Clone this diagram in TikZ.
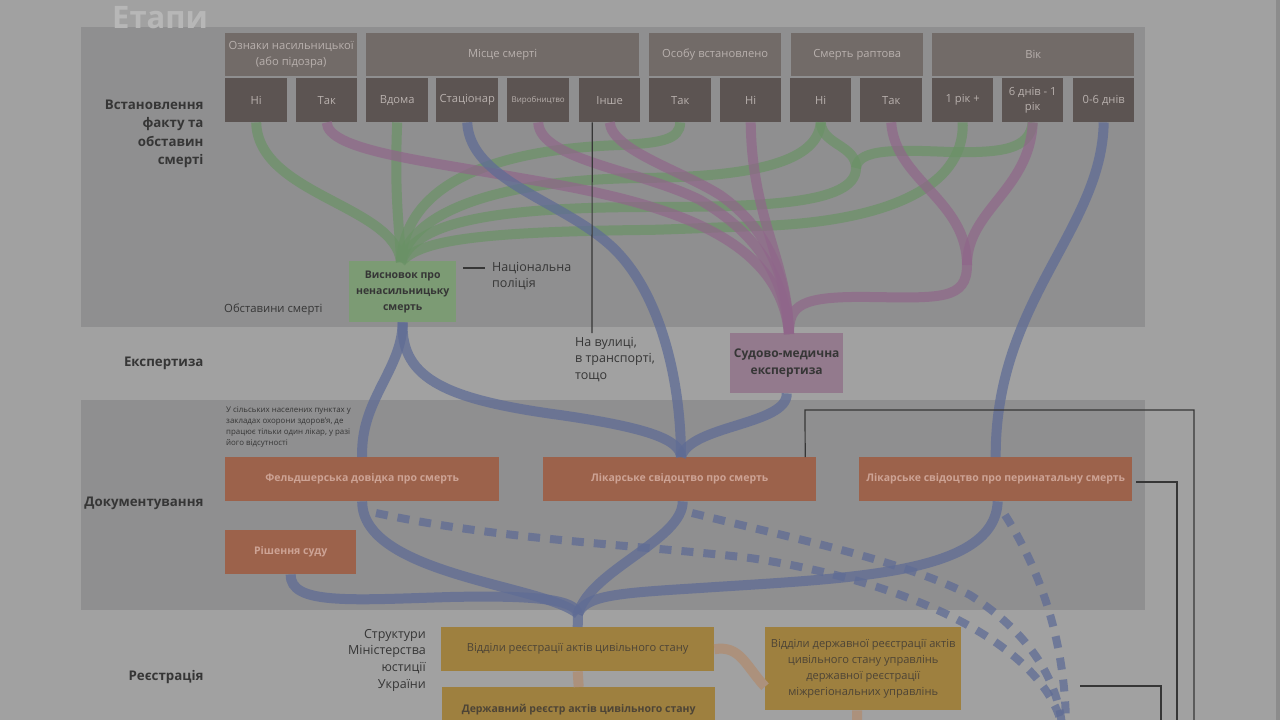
\documentclass[tikz,border=0pt]{standalone}
\usepackage{fontspec}
\setmainfont{Open Sans}
\definecolor{bg}{HTML}{A1A1A1}
\definecolor{band}{HTML}{8F8F90}
\definecolor{hdrc}{HTML}{726B68}
\definecolor{subc}{HTML}{5C5452}
\definecolor{hdrtxt}{HTML}{B8B0AD}
\definecolor{lbl}{HTML}{363636}
\definecolor{gline}{HTML}{6A9266}
\definecolor{pline}{HTML}{90668A}
\definecolor{bline}{HTML}{5F6C95}
\definecolor{gbox}{HTML}{7C9B74}
\definecolor{pbox}{HTML}{937A8D}
\definecolor{obox}{HTML}{9C624B}
\definecolor{otxt}{HTML}{CDA395}
\definecolor{ybox}{HTML}{9E803F}
\definecolor{ytxt}{HTML}{4D4436}
\definecolor{tanc}{HTML}{AC917C}
\definecolor{etapy}{HTML}{B7B7B7}
\tikzset{
  bx/.style={inner sep=0pt, anchor=north west, align=center},
  hdr/.style={bx, fill=hdrc, text=hdrtxt, font=\fontsize{11.2}{15.5}\selectfont},
  sub/.style={bx, fill=subc, text=hdrtxt, minimum height=44pt, font=\fontsize{11.2}{15.5}\selectfont},
  obx/.style={bx, fill=obox, text=otxt, font=\bfseries\fontsize{10.5}{14}\selectfont},
  ybx/.style={bx, fill=ybox, text=ytxt, font=\fontsize{11.1}{16}\selectfont},
  stage/.style={anchor=east, align=right, text=lbl, font=\bfseries\fontsize{13.3}{18.5}\selectfont},
  note/.style={text=lbl, inner sep=0pt},
  gl/.style={draw=gline, line width=10pt, opacity=0.7},
  pl/.style={draw=pline, line width=10pt, opacity=0.7},
  bl/.style={draw=bline, line width=10pt, opacity=0.75},
  bd/.style={draw=bline, line width=8pt, opacity=0.75, dash pattern=on 12pt off 10pt},
  tl/.style={draw=tanc, line width=10pt},
  thin/.style={draw=lbl, line width=1.2pt},
}
\begin{document}
\begin{tikzpicture}[x=1pt,y=-1pt]
\useasboundingbox (0,0) rectangle (1280,720);
\clip (0,0) rectangle (1280,720);
\fill[bg] (0,0) rectangle (1280,720);
\fill[black!45] (1276,0) rectangle (1280,720);
\fill[band] (81,27) rectangle (1145,327);
\fill[band] (81,400) rectangle (1145,610);
\node[anchor=base west, inner sep=0pt, text=etapy, font=\bfseries\fontsize{31}{31}\selectfont] (title) at (112,28) {Етапи};

% stage labels
\node[stage] (s1) at (207,134) {Встановлення\\факту та\\обставин\\смерті};
\node[stage] (s2) at (207,363) {Експертиза};
\node[stage] (s3) at (207,503) {Документування};
\node[stage] (s4) at (207,677) {Реєстрація};

% header boxes
\node[hdr, minimum width=132pt, minimum height=43pt] (hOz) at (225,33) {Ознаки насильницької\\(або підозра)};
\node[hdr, minimum width=273pt, minimum height=43pt] (hMi) at (366,33) {Місце смерті};
\node[hdr, minimum width=132pt, minimum height=43pt] (hOs) at (649,33) {Особу встановлено};
\node[hdr, minimum width=132pt, minimum height=43pt] (hSm) at (791,33) {Смерть раптова};
\node[hdr, minimum width=202pt, minimum height=43pt] (hVi) at (932,33) {Вік};

% sub boxes
\node[sub, minimum width=62pt] (ozNi) at (225,78) {Ні};
\node[sub, minimum width=61pt] (ozTak) at (296,78) {Так};
\node[sub, minimum width=62pt] (vdoma) at (366,78) {Вдома};
\node[sub, minimum width=62pt] (stac) at (436,78) {Стаціонар};
\node[sub, minimum width=62pt, font=\fontsize{8}{10}\selectfont] (vyr) at (507,78) {Виробництво};
\node[sub, minimum width=61pt] (inshe) at (579,78) {Інше};
\node[sub, minimum width=62pt] (osTak) at (649,78) {Так};
\node[sub, minimum width=61pt] (osNi) at (720,78) {Ні};
\node[sub, minimum width=61pt] (smNi) at (790,78) {Ні};
\node[sub, minimum width=62pt] (smTak) at (860,78) {Так};
\node[sub, minimum width=61pt] (rik) at (932,78) {1 рік +};
\node[sub, minimum width=61pt] (dniv) at (1002,78) {6 днів - 1\\рік};
\node[sub, minimum width=61pt] (nul) at (1073,78) {0-6 днів};

% main boxes
\node[bx, fill=gbox, text=lbl, minimum width=107pt, minimum height=61pt, font=\bfseries\fontsize{10.5}{16}\selectfont] (vys) at (349,261) {Висновок про\\ненасильницьку\\смерть};
\node[bx, fill=pbox, text=lbl, minimum width=113pt, minimum height=60pt, font=\bfseries\fontsize{12}{16.5}\selectfont] (sme) at (730,333) {Судово-медична\\експертиза};
\node[obx, minimum width=274pt, minimum height=44pt] (fel) at (225,457) {Фельдшерська довідка про смерть};
\node[obx, minimum width=273pt, minimum height=44pt] (lik) at (543,457) {Лікарське свідоцтво про смерть};
\node[obx, minimum width=273pt, minimum height=44pt] (per) at (859,457) {Лікарське свідоцтво про перинатальну смерть};
\node[obx, minimum width=131pt, minimum height=44pt] (sud) at (225,530) {Рішення суду};
\node[ybx, minimum width=273pt, minimum height=44pt] (reg1) at (441,627) {Відділи реєстрації актів цивільного стану};
\node[ybx, minimum width=273pt, minimum height=44pt, font=\bfseries\fontsize{10.5}{15}\selectfont] (reg2) at (442,687) {Державний реєстр актів цивільного стану};
\node[ybx, minimum width=196pt, minimum height=83pt] (reg3) at (765,627) {Відділи державної реєстрації актів\\цивільного стану управлінь\\державної реєстрації\\міжрегіональних управлінь};

% notes
\node[note, anchor=west, font=\fontsize{11.3}{13}\selectfont] (obst) at (224,310) {Обставини смерті};
\node[note, anchor=north west, align=left, font=\fontsize{12.5}{16}\selectfont] (nac) at (492,262) {Національна\\поліція};
\node[note, anchor=north west, align=left, font=\fontsize{12.5}{16.5}\selectfont] (vul) at (575,337) {На вулиці,\\в транспорті,\\тощо};
\node[note, anchor=north west, align=left, font=\fontsize{7.9}{11.3}\selectfont] (sil) at (226,406) {У сільських населених пунктах у\\закладах охорони здоров'я, де\\працює тільки один лікар, у разі\\його відсутності};
\node[note, anchor=north east, align=right, font=\fontsize{12.5}{16.7}\selectfont] (str) at (426,629) {Структури\\Міністерства\\юстиції\\України};

% coordinates
\coordinate (gin) at (401,262);
\coordinate (pin) at (789,334);
\coordinate (pj) at (967,265);
\coordinate (gj) at (856,168);
\coordinate (merge) at (578,614);
\coordinate (lin) at (681,457);

% green curves
\draw[gl] (ozNi.south) .. controls (258,195) and (395,205) .. (gin);
\draw[gl] (vdoma.south) .. controls (394,200) and (400,230) .. (gin);
\draw[gl] (osTak.south) .. controls (680,140) and (660,143) .. (620,145) .. controls (480,150) and (405,190) .. (gin);
\draw[gl] (smNi.south) .. controls (818,160) and (760,177) .. (640,178) .. controls (490,180) and (410,215) .. (gin);
\draw[gl] (smNi.south) .. controls (822,145) and (856,145) .. (gj) .. controls (856,205) and (760,207) .. (640,207) .. controls (480,208) and (415,225) .. (gin);
\draw[gl] (dniv.south) .. controls (1030,150) and (1000,153) .. (950,152) .. controls (900,150) and (858,148) .. (gj);
\draw[gl] (rik.south) .. controls (965,190) and (880,222) .. (760,226) .. controls (700,228) and (660,230) .. (640,230) .. controls (480,232) and (420,240) .. (gin);

% pink curves
\draw[pl] (ozTak.south) .. controls (328,150) and (420,160) .. (520,178) .. controls (650,200) and (780,230) .. (pin);
\draw[pl] (vyr.south) .. controls (540,160) and (640,170) .. (700,200) .. controls (760,235) and (785,280) .. (pin);
\draw[pl] (inshe.south) .. controls (612,150) and (680,170) .. (720,195) .. controls (770,230) and (787,280) .. (pin);
\draw[pl] (osNi.south) .. controls (752,220) and (788,260) .. (pin);
\draw[pl] (smTak.south) .. controls (895,180) and (967,200) .. (pj);
\draw[pl] (dniv.south) .. controls (1030,190) and (967,210) .. (pj);
\draw[pl] (pj) .. controls (967,300) and (940,298) .. (870,297) .. controls (800,296) and (789,305) .. (pin);

% blue curves
\draw[bl] (stac.south) .. controls (470,180) and (560,200) .. (610,245) .. controls (660,290) and (681,380) .. (lin);
\draw[bl] (vys.south) .. controls (402,370) and (360,400) .. (fel.north);
\draw[bl] (vys.south) .. controls (400,380) and (450,400) .. (560,415) .. controls (650,428) and (680,440) .. (lin);
\draw[bl] (sme.south) .. controls (788,425) and (690,425) .. (lin);
\draw[bl] (nul.south) .. controls (1102,230) and (995,300) .. (per.north);
\draw[bl] (fel.south) .. controls (362,575) and (545,585) .. (merge);
\draw[bl] (sud.south) .. controls (290,605) and (350,600) .. (450,597) .. controls (540,595) and (575,600) .. (merge);
\draw[bl] ([xshift=3pt]lik.south) .. controls (683,540) and (590,570) .. (merge);
\draw[bl] ([xshift=2pt]per.south) .. controls (995,575) and (850,578) .. (700,588) .. controls (620,593) and (585,595) .. (merge);
\draw[bl] (merge) -- (reg1.north);

% dashed blue
\coordinate (d1) at (376,513);
\coordinate (d2) at (692,513);
\coordinate (d3) at (1005,515);
\coordinate (dend1) at (1062,725);
\coordinate (dend3) at (1066,725);
\draw[bd] (d1) .. controls (500,540) and (640,545) .. (750,558) .. controls (900,580) and (1040,640) .. (dend1);
\draw[bd] (d2) .. controls (800,540) and (900,560) .. (970,595) .. controls (1040,640) and (1058,690) .. (dend1);
\draw[bd] (d3) .. controls (1040,570) and (1065,640) .. (dend3);

% tan connectors
\draw[tl] (reg1.east) .. controls (740,645) and (745,665) .. ([yshift=-18pt]reg3.west);
\draw[tl] (reg1.south) -- (reg2.north);
\coordinate (tend) at (857,725);
\draw[tl] ([xshift=-6pt]reg3.south) -- (tend);

% thin black lines
\coordinate (k1) at (805,410);
\coordinate (k2) at (1194,410);
\coordinate (k3) at (1194,725);
\draw[thin] ([xshift=125.5pt]lik.north) -- (k1) -- (k2) -- (k3);
\coordinate (m0) at (1136,482);
\coordinate (m1) at (1177,482);
\coordinate (m2) at (1177,725);
\draw[thin] (m0) -- (m1) -- (m2);
\coordinate (n0) at (1080,686);
\coordinate (n1) at (1161,686);
\coordinate (n2) at (1161,725);
\draw[thin] (n0) -- (n1) -- (n2);
\coordinate (v1) at (592,333);
\draw[thin] ([xshift=-17.5pt]inshe.south) -- (v1);
\coordinate (p1) at (463,268);
\coordinate (p2) at (485,268);
\draw[thin] (p1) -- (p2);
\end{tikzpicture}
\end{document}
